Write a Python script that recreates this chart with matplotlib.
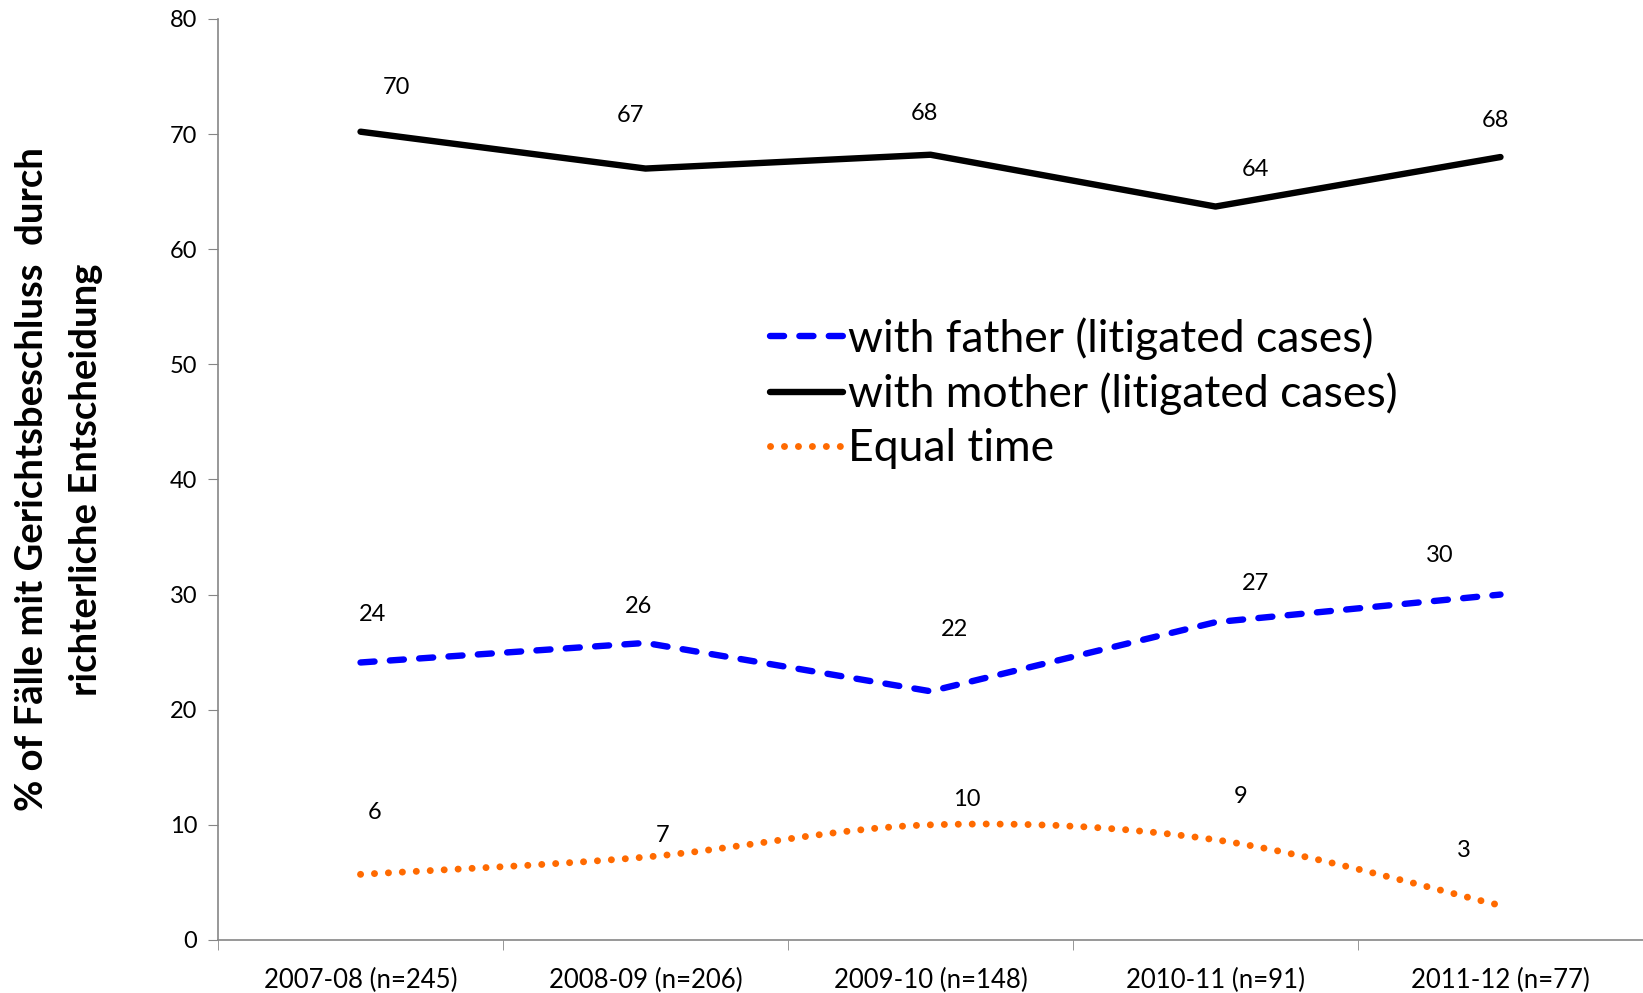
import numpy as np
import matplotlib.pyplot as plt
from matplotlib.path import Path
from matplotlib.patches import PathPatch
from matplotlib.lines import Line2D

plt.rcParams['font.family'] = ['Lato', 'DejaVu Sans']

categories = ['2007-08 (n=245)', '2008-09 (n=206)', '2009-10 (n=148)',
              '2010-11 (n=91)', '2011-12 (n=77)']
father = [24.1, 25.8, 21.6, 27.6, 30.0]
mother = [70.2, 67.0, 68.2, 63.7, 68.0]
equal_time = [5.7, 7.2, 10.0, 8.7, 3.0]

father_labels = ['24', '26', '22', '27', '30']
mother_labels = ['70', '67', '68', '64', '68']
equal_labels = ['6', '7', '10', '9', '3']

# label offsets in pixels (dx, dy), as placed in the original
mother_off = [(36, 44), (-15, 53), (-6, 41), (40, 37), (-5, 37)]
father_off = [(12, 48), (-7, 36), (24, 62), (40, 39), (-61, 39)]
equal_off = [(14, 62), (17, 22), (36, 25), (25, 43), (-37, 55)]


def smooth_path(xs, ys):
    # excel-like smoothed line: bezier through the points
    pts = list(zip(xs, ys))
    verts = [pts[0]]
    codes = [Path.MOVETO]
    n = len(pts)
    for i in range(n - 1):
        p0 = pts[max(i - 1, 0)]
        p1 = pts[i]
        p2 = pts[i + 1]
        p3 = pts[min(i + 2, n - 1)]
        c1 = (p1[0] + (p2[0] - p0[0]) / 6, p1[1] + (p2[1] - p0[1]) / 6)
        c2 = (p2[0] - (p3[0] - p1[0]) / 6, p2[1] - (p3[1] - p1[1]) / 6)
        verts += [c1, c2, p2]
        codes += [Path.CURVE4] * 3
    return Path(verts, codes)


fig = plt.figure(figsize=(16.43, 9.93), dpi=100)
ax = fig.add_axes([0.1327, 0.0534, 0.8673, 0.9276])
x = np.arange(len(categories))

ax.plot(x, mother, color='black', lw=4.6, solid_capstyle='round')
ax.plot(x, father, color='#0000ff', lw=4.6, dashes=(2.2, 2.4),
        dash_capstyle='round')
eq = PathPatch(smooth_path(x, equal_time), fill=False, edgecolor='#ff6a00',
               lw=5, linestyle=(0, (0.01, 2.0)), capstyle='round')
ax.add_patch(eq)

for vals, labs, offs in [(mother, mother_labels, mother_off),
                         (father, father_labels, father_off),
                         (equal_time, equal_labels, equal_off)]:
    for xi, v, lab, (dx, dy) in zip(x, vals, labs, offs):
        ax.annotate(lab, (xi, v), xytext=(dx * 0.72, dy * 0.72),
                    textcoords='offset points', ha='center', va='center',
                    fontsize=17)

ax.set_xlim(-0.5, 4.5)
ax.set_ylim(0, 80)
ax.set_yticks(range(0, 81, 10))
ax.set_xticks(x)
ax.set_xticklabels(categories, fontsize=18.5)
ax.set_xticks(np.arange(-0.5, 5, 1), minor=True)
ax.tick_params(axis='x', which='major', length=0, pad=20)
ax.tick_params(axis='x', which='minor', length=7, color='#868686')
ax.tick_params(axis='y', length=7, color='#868686', labelsize=17, pad=8)
for s in ['top', 'right']:
    ax.spines[s].set_visible(False)
for s in ['left', 'bottom']:
    ax.spines[s].set_color('#868686')
    ax.spines[s].set_linewidth(1.2)

ax.set_ylabel('% of Fälle mit Gerichtsbeschluss  durch\nrichterliche Entscheidung',
              fontsize=27.5, fontweight='bold', linespacing=1.7)
ax.yaxis.set_label_coords(-0.081, 0.5)

handles = [
    Line2D([], [], color='#0000ff', lw=4.6, dashes=(2.2, 2.4), dash_capstyle='round'),
    Line2D([], [], color='black', lw=4.6, solid_capstyle='round'),
    Line2D([], [], color='#ff6a00', lw=5, linestyle=(0, (0.01, 2.0)),
           dash_capstyle='round'),
]
ax.legend(handles, ['with father (litigated cases)', 'with mother (litigated cases)',
                    'Equal time'],
          loc='upper left', bbox_to_anchor=(0.455, 0.703), bbox_transform=fig.transFigure,
          frameon=False, fontsize=32, handlelength=1.65, handletextpad=0.1,
          labelspacing=0.29, borderpad=0)

fig.savefig('out.png', dpi=100)
